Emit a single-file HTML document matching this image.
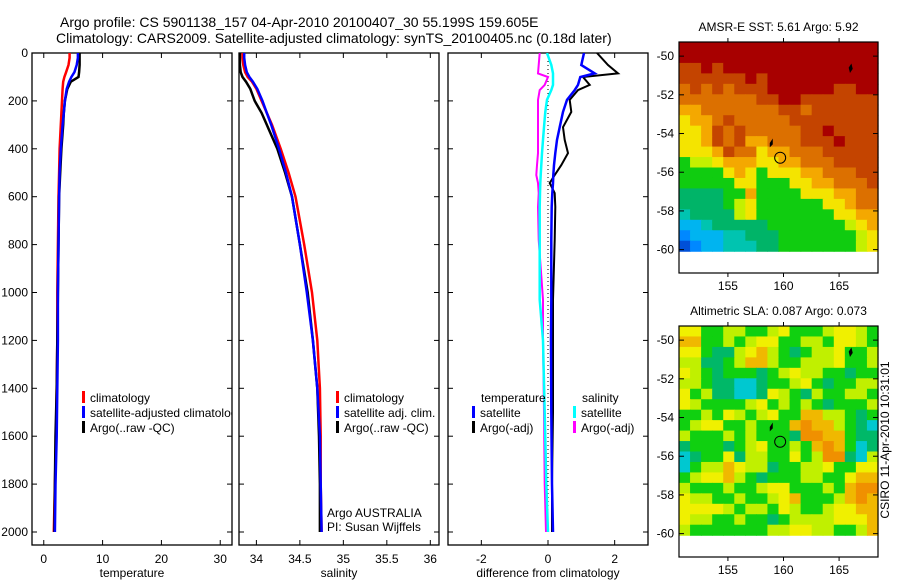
<!DOCTYPE html>
<html><head><meta charset="utf-8">
<style>
html,body{margin:0;padding:0;background:#fff;}
svg{display:block;font-family:"Liberation Sans",sans-serif;}
</style></head>
<body>
<svg id="fig" width="900" height="580" viewBox="0 0 900 580" xmlns="http://www.w3.org/2000/svg">
<rect x="0" y="0" width="900" height="580" fill="#fff"/>
<text x="60" y="27" font-size="14">Argo profile: CS 5901138_157 04-Apr-2010 20100407_30 55.199S 159.605E</text>
<text x="56" y="43" font-size="14">Climatology: CARS2009. Satellite-adjusted climatology: synTS_20100405.nc (0.18d later)</text>
<g id="g"></g>
</svg>
<script>
// ---- profile data ----
const depths = [0,20,50,80,100,120,150,200,250,300,400,500,600,800,1000,1200,1400,1600,1800,2000];
const tempClim = [4.4,4.4,4.2,3.8,3.5,3.3,3.2,3.1,3.0,2.9,2.7,2.6,2.5,2.4,2.3,2.3,2.2,2.1,1.9,1.7];
const tempSat  = [5.8,5.8,5.6,5.2,4.7,4.3,3.9,3.6,3.4,3.2,2.9,2.7,2.6,2.5,2.4,2.4,2.3,2.2,2.0,1.9];
const tempArgo = [6.1,6.1,6.1,6.0,5.9,4.6,4.0,3.6,3.4,3.3,3.0,2.8,2.6,2.5,2.4,2.3,2.2,2.0,1.9,1.8];
const salClim = [33.84,33.84,33.85,33.87,33.9,33.95,34.0,34.06,34.12,34.18,34.28,34.37,34.45,34.55,34.64,34.7,34.73,34.74,34.74,34.75];
const salSat  = [33.86,33.86,33.87,33.89,33.92,33.96,34.01,34.07,34.12,34.17,34.26,34.34,34.41,34.5,34.58,34.65,34.7,34.73,34.74,34.75];
const salArgo = [33.81,33.81,33.81,33.82,33.84,33.88,33.93,33.98,34.06,34.12,34.24,34.33,34.41,34.5,34.59,34.65,34.7,34.72,34.73,34.73];
const diffDepths = [0,50,85,100,133,155,196,246,310,363,418,468,510,543,585,643,780,1030,1200,1500,1800,2000];
const tempSatDiff  = [1.08,1.0,1.4,0.97,0.9,0.8,0.57,0.45,0.35,0.27,0.22,0.18,0.16,0.15,0.13,0.11,0.1,0.1,0.09,0.1,0.12,0.15];
const tempArgoDiff = [1.47,1.8,2.1,1.05,1.25,0.9,0.65,0.7,0.45,0.5,0.6,0.4,0.2,0.05,0.2,0.22,0.2,0.15,0.15,0.15,0.12,0.12];
const salSatDiff   = [-0.03,0.1,0.15,0.15,0.15,0.1,-0.03,-0.08,-0.12,-0.15,-0.18,-0.2,-0.22,-0.23,-0.24,-0.25,-0.25,-0.25,-0.15,-0.1,-0.05,0];
const salArgoDiff  = [-0.25,-0.28,-0.3,0.0,-0.1,-0.25,-0.3,-0.3,-0.3,-0.3,-0.3,-0.33,-0.35,-0.3,-0.28,-0.3,-0.28,-0.15,-0.15,-0.12,-0.1,-0.06];
const depthTicks = [0,200,400,600,800,1000,1200,1400,1600,1800,2000];
const tempTicks = [0,10,20,30];
const salTicks = [34,34.5,35,35.5,36];
const diffTicks = [-2,0,2];
const latTicks = [-50,-52,-54,-56,-58,-60];
const lonTicks = [155,160,165];
// map grids (colour class codes per cell)
const sstGrid = [
"000000000000000000","000000000000000000","110100000000000000","111111010000000000",
"212121110000001100","222222211001111111","332222222112111111","433212222211111111",
"443121222221101111","443121332221110111","444312243322211111","655433344332221111",
"666643464443322211","666664466644332221","777766366664443322","777765466666644322",
"877775466666664433","998777776666666543","a99988777666666654","ba9988877666666654"];
const slaGrid = [
"446655665466654456","336656544665564456","446775435676554665","557765335665554665",
"456766676545566766","556778876654676655","465778874567566556","456666546565676665",
"665645654663355676","654466566632335678","566656566672233677","766676546656323687",
"876647556646522785","865534557665546644","654435676665566433","566656654466656322",
"455665665436665323","444456556456654433","455665667655554443","566666665544556653"];
const sstColors = {"0":"#a80000","1":"#c44400","2":"#dc7000","3":"#f4a800","4":"#f4e400","5":"#c4f000","6":"#10cc10","7":"#00b468","8":"#00c4b0","9":"#00b4f0","a":"#0088ff","b":"#0050d8"};
const slaColors = {"2":"#f09000","3":"#f0b800","4":"#f0f000","5":"#c0f000","6":"#10d010","7":"#00b868","8":"#00c8d0"};

const NS="http://www.w3.org/2000/svg";
const G=document.getElementById('g');
function el(tag,attrs,parent){const e=document.createElementNS(NS,tag);for(const k in attrs)e.setAttribute(k,attrs[k]);(parent||G).appendChild(e);return e;}
function txt(s,x,y,size,anchor,parent){const t=el('text',{x:x,y:y,'font-size':size,'text-anchor':anchor||'start'},parent);t.textContent=s;return t;}

const yTop=53, yScale=0.2395, pBottom=545, pTop=53;
function yD(d){return yTop+d*yScale;}

const defs=el('defs',{});
function panel(name,x0,x1,vmin,vmax,ticks,label,showY){
  const g=el('g',{});
  
  
  const cp=el('clipPath',{id:'clip-'+name},defs);
  el('rect',{x:x0,y:pTop,width:x1-x0,height:pBottom-pTop},cp);
  const xs=v=>x0+(v-vmin)/(vmax-vmin)*(x1-x0);
  el('rect',{x:x0,y:pTop,width:x1-x0,height:pBottom-pTop,fill:'none',stroke:'#000','stroke-width':1.3},g);
  ticks.forEach(t=>{const x=xs(t);
    el('line',{x1:x,x2:x,y1:pTop,y2:pTop+5,stroke:'#000'},g);
    el('line',{x1:x,x2:x,y1:pBottom,y2:pBottom-5,stroke:'#000'},g);
    const tl=txt(String(t),x,563,12,'middle',g);
    
    
  });
  depthTicks.forEach(d=>{const y=yD(d);
    el('line',{x1:x0,x2:x0+5,y1:y,y2:y,stroke:'#000'},g);
    el('line',{x1:x1,x2:x1-5,y1:y,y2:y,stroke:'#000'},g);
    if(showY){const tl=txt(String(d),28,y+4,12,'end',g);
      
      }
  });
  const xl=txt(label,(x0+x1)/2,577,12,'middle',g);
  
  
  const inner=el('g',{'clip-path':'url(#clip-'+name+')'},g);
  return {g:inner,xs};
}
function line(p,ds,vals,color,w,name){
  const pts=vals.map((v,i)=>p.xs(v).toFixed(1)+','+yD(ds[i]).toFixed(1)).join(' ');
  const l=el('polyline',{points:pts,fill:'none',stroke:color,'stroke-width':w,'stroke-linejoin':'miter'},p.g);
  
  
}
function legend(p,x,y,color,label){
  const b=el('rect',{x:x,y:y-6,width:3,height:12,fill:color},p.g);
  
  
  const t=txt(label,x+8,y+5,12,'start',p.g);
  
  
}

// temperature panel
const p1=panel('temperature-panel',32,232,-2,32,tempTicks,'temperature',true);
line(p1,depths,tempClim,'#ff0000',2.5,'temp-climatology-line');
line(p1,depths,tempArgo,'#000',2.5,'temp-argo-line');
line(p1,depths,tempSat,'#0000ff',2.5,'temp-satellite-line');
legend(p1,82,397,'#ff0000','climatology');
legend(p1,82,412,'#0000ff','satellite-adjusted climatology');
legend(p1,82,427,'#000','Argo(..raw -QC)');

// salinity panel
const p2=panel('salinity-panel',239,439,33.8,36.1,salTicks,'salinity',false);
line(p2,depths,salClim,'#ff0000',2.5,'sal-climatology-line');
line(p2,depths,salArgo,'#000',2.5,'sal-argo-line');
line(p2,depths,salSat,'#0000ff',2.5,'sal-satellite-line');
legend(p2,336,397,'#ff0000','climatology');
legend(p2,336,412,'#0000ff','satellite adj. clim.');
legend(p2,336,427,'#000','Argo(..raw -QC)');
const a1=txt('Argo AUSTRALIA',327,517,12,'start',p2.g);


const a2=txt('PI: Susan Wijffels',327,531,12,'start',p2.g);



// difference panel
const p3=panel('difference-panel',448,648,-3,3,diffTicks,'difference from climatology',false);
const zl=el('line',{x1:p3.xs(0),x2:p3.xs(0),y1:yD(0),y2:yD(2000),stroke:'#000','stroke-dasharray':'1,3'},p3.g);


line(p3,diffDepths,salArgoDiff,'#ff00ff',2,'sal-argo-diff-line');
line(p3,diffDepths,salSatDiff,'#00ffff',2.5,'sal-satellite-diff-line');
line(p3,diffDepths,tempArgoDiff,'#000',2,'temp-argo-diff-line');
line(p3,diffDepths,tempSatDiff,'#0000ff',2.5,'temp-satellite-diff-line');
const lt=txt('temperature',481,402,12,'start',p3.g);


const ls=txt('salinity',582,402,12,'start',p3.g);


legend(p3,472,412,'#0000ff','satellite');
legend(p3,472,427,'#000','Argo(-adj)');
legend(p3,573,412,'#00ffff','satellite');
legend(p3,573,427,'#ff00ff','Argo(-adj)');

// maps
function map(name,top,title,grid,colors){
  const g=el('g',{});
  
  
  const x0=679,x1=878,y1=top+231;
  const lon0=150.6,lon1=168.5,lat0=-49.27;
  const xs=lo=>x0+(lo-lon0)/(lon1-lon0)*(x1-x0);
  const ys=la=>top+(lat0-la)*19.35;
  const rows=grid.length, cols=grid[0].length;
  const dataBottom=ys(-60.08);
  const cw=(x1-x0)/cols, ch=(dataBottom-top)/rows;
  grid.forEach((r,i)=>{for(let j=0;j<cols;j++){
    el('rect',{x:(x0+j*cw).toFixed(2),y:(top+i*ch).toFixed(2),width:(cw+0.6).toFixed(2),height:(ch+0.6).toFixed(2),fill:colors[r[j]]||'#10d010'},g);
  }});
  el('rect',{x:x0,y:top,width:x1-x0,height:y1-top,fill:'none',stroke:'#000','stroke-width':1.2},g);
  latTicks.forEach(la=>{const y=ys(la);
    el('line',{x1:x0,x2:x0+5,y1:y,y2:y,stroke:'#000'},g);
    el('line',{x1:x1,x2:x1-5,y1:y,y2:y,stroke:'#000'},g);
    const t=txt(String(la),674,y+4,12,'end',g);
    
    
  });
  lonTicks.forEach(lo=>{const x=xs(lo);
    el('line',{x1:x,x2:x,y1:top,y2:top-4,stroke:'#000'},g);
    el('line',{x1:x,x2:x,y1:y1,y2:y1+4,stroke:'#000'},g);
    const t=txt(String(lo),x,y1+17,12,'middle',g);
    
    
  });
  el('path',{d:`M${xs(166)-1},${ys(-50.6)} l2,-3 l1,4 l-2,3 z`,fill:'#000',stroke:'#000'},g);
  el('path',{d:`M${xs(158.9)-1},${ys(-54.5)} l2,-3 l0,4 l-2,2 z`,fill:'#000',stroke:'#000'},g);
  const c=el('circle',{cx:xs(159.7),cy:ys(-55.25),r:5.5,fill:'none',stroke:'#000','stroke-width':1},g);
  
  
  const t=txt(title,(x0+x1)/2,top-11,12,'middle',g);
  
  
}
map('sst-map',42,'AMSR-E SST: 5.61 Argo: 5.92',sstGrid,sstColors);
map('sla-map',326,'Altimetric SLA: 0.087 Argo: 0.073',slaGrid,slaColors);
const cs=txt('CSIRO 11-Apr-2010 10:31:01',0,0,12,'middle');
cs.setAttribute('transform','translate(889,440) rotate(-90)');


</script>
</body></html>
